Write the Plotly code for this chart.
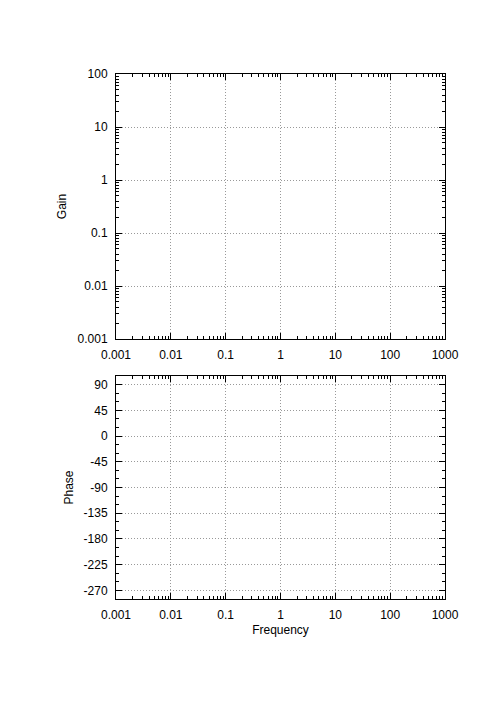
import plotly.graph_objects as go
from plotly.subplots import make_subplots

# Frequency / gain / phase axes (no curves drawn in the reference)
freq_ticks = [0.001, 0.01, 0.1, 1, 10, 100, 1000]
freq_labels = ["0.001", "0.01", "0.1", "1", "10", "100", "1000"]
gain_ticks = [0.001, 0.01, 0.1, 1, 10, 100]
gain_labels = ["0.001", "0.01", "0.1", "1", "10", "100"]
phase_ticks = [90, 45, 0, -45, -90, -135, -180, -225, -270]
phase_labels = ["90", "45", "0", "-45", "-90", "-135", "-180", "-225", "-270"]
phase_range = [-285, 105]

freq = []
gain = []
phase = []


def log_minor(decades):
    # 2..9 minor ticks inside each decade, gnuplot style
    return [d * k for d in decades[:-1] for k in range(2, 10)]


fig = make_subplots(rows=2, cols=1)

fig.add_trace(go.Scatter(x=freq, y=gain, mode="lines", line=dict(color="red"), showlegend=False), row=1, col=1)
fig.add_trace(go.Scatter(x=freq, y=phase, mode="lines", line=dict(color="green"), showlegend=False), row=2, col=1)

axis_style = dict(
    showline=True, linecolor="black", linewidth=1, mirror="ticks",
    ticks="inside", ticklen=6, tickcolor="black", tickwidth=1,
    showgrid=True, gridcolor="#999999", griddash="1px,2px", gridwidth=1,
    zeroline=False, tickfont=dict(size=12, color="black"), ticklabelstandoff=5,
)

for r in (1, 2):
    fig.update_xaxes(type="log", range=[-3, 3], tickvals=freq_ticks, ticktext=freq_labels,
                     minor=dict(ticks="inside", ticklen=3, tickcolor="black", showgrid=False,
                                tickvals=log_minor(freq_ticks)),
                     row=r, col=1, **axis_style)

fig.update_xaxes(title_text="Frequency", title_standoff=4, title_font=dict(size=12), row=2, col=1)

fig.update_yaxes(type="log", range=[-3, 2], tickvals=gain_ticks, ticktext=gain_labels,
                 minor=dict(ticks="inside", ticklen=3, tickcolor="black", showgrid=False,
                            tickvals=log_minor(gain_ticks)),
                 title_text="Gain", title_standoff=8, title_font=dict(size=12), row=1, col=1, **axis_style)
fig.update_yaxes(range=phase_range, tickvals=phase_ticks, ticktext=phase_labels,
                 minor=dict(ticks="inside", ticklen=3, tickcolor="black", dtick=15, tick0=0, showgrid=False),
                 title_text="Phase", title_standoff=7, title_font=dict(size=12), row=2, col=1, **axis_style)

fig.update_layout(
    width=500, height=707,
    margin=dict(l=108, r=63, t=66, b=116),
    paper_bgcolor="white", plot_bgcolor="white",
    font=dict(family="Liberation Sans, Arial, sans-serif", size=12, color="black"),
    showlegend=False,
)
fig.layout.yaxis.domain = [260 / 525, 1.0]
fig.layout.yaxis2.domain = [0.0, 223 / 525]

fig.write_html("out.html")
